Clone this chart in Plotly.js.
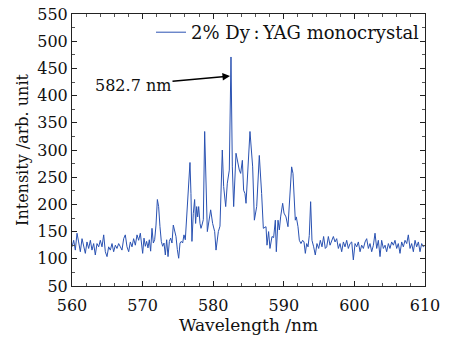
<!DOCTYPE html>
<html><head><meta charset="utf-8">
<script src="https://cdn.plot.ly/plotly-3.0.1.min.js"></script>
<style>html,body{margin:0;padding:0;background:#fff}</style>
</head><body><div id="chart" style="width:456px;height:342px"></div>
<script>
const wavelength = [
560.00,560.24,560.47,560.71,560.94,561.18,561.42,561.65,561.89,562.12,
562.36,562.60,562.83,563.07,563.30,563.54,563.78,564.01,564.25,564.49,
564.72,564.96,565.19,565.43,565.67,565.90,566.14,566.37,566.61,566.85,
567.08,567.32,567.55,567.79,568.03,568.26,568.50,568.73,568.97,569.21,
569.44,569.68,
569.87,570.01,570.20,570.39,570.57,570.76,570.95,571.14,571.33,571.52,
571.71,571.90,572.09,572.27,572.46,572.65,572.84,573.03,573.22,573.41,
573.60,573.79,573.97,574.16,574.35,574.54,574.73,574.92,575.11,575.30,
575.48,575.67,575.86,576.05,576.24,576.48,576.71,576.85,576.99,577.18,
577.37,577.51,577.66,577.80,577.94,578.13,578.27,578.41,
578.60,578.79,579.17,579.64,579.92,580.21,580.40,580.73,580.96,581.29,
581.48,581.77,582.00,582.28,582.52,582.71,582.90,583.23,583.47,583.70,
583.89,584.13,584.31,584.50,584.65,584.83,585.21,585.59,585.83,586.16,
586.53,586.86,587.10,
587.48,587.62,587.85,588.04,588.33,588.56,588.80,588.94,589.18,589.37,
589.55,589.84,590.03,590.31,590.59,590.88,591.11,591.30,591.49,591.63,
591.77,592.01,592.20,592.43,592.67,592.86,593.05,593.24,593.43,593.61,
593.80,593.99,594.23,594.46,594.70,594.94,595.17,595.41,595.64,595.88,
596.08,596.31,596.55,596.78,597.02,597.26,597.49,597.73,597.96,598.20,
598.44,598.67,598.91,599.14,599.38,599.62,599.85,600.09,600.33,600.56,
600.80,601.03,601.27,601.51,601.74,601.98,602.21,602.45,602.69,602.92,
603.16,603.39,603.63,603.86,604.10,604.34,604.57,604.81,605.04,605.28,
605.52,605.75,605.99,606.22,606.46,606.70,606.93,607.17,607.41,607.64,
607.88,608.11,608.35,608.59,608.82,609.06,609.29,609.53,609.76,610.00
];
const intensity = [
122,134,116,147,131,113,137,122,110,131,
119,134,116,128,107,128,122,134,122,144,
113,104,122,116,128,113,125,119,128,122,
116,137,144,122,113,131,122,137,125,144,
134,147,
129,110,138,123,132,120,135,114,156,129,
135,162,209,196,159,132,123,129,107,135,
104,132,138,129,162,153,141,117,101,129,
132,129,144,135,177,220,277,220,132,183,
209,165,196,177,196,165,156,162,
172,334,150,190,165,150,116,150,160,300,
233,196,239,263,471,269,196,294,275,263,
257,281,226,220,202,251,334,269,171,196,
290,220,156,
159,125,150,119,141,139,171,113,171,153,
177,202,184,177,159,214,269,257,214,171,
177,159,134,128,134,131,110,128,122,143,
205,134,122,107,128,119,134,122,141,119,
122,141,125,134,141,131,137,119,128,113,
131,122,134,119,128,131,98,128,122,131,
113,125,119,131,137,119,128,113,125,147,
119,134,104,134,119,125,113,128,119,131,
125,134,119,128,110,131,122,134,128,144,
119,128,113,134,122,131,113,128,122,125
];
const seriesName = "2% Dy\u2009:\u2009YAG monocrystal";
const xTicks = [560,570,580,590,600,610];
const yTicks = [50,100,150,200,250,300,350,400,450,500,550];
const xTitle = "Wavelength /nm";
const yTitle = "Intensity /arb. unit";
const peakLabel = "582.7 nm";
const peakArrowX = 582.38, peakArrowY = 436;

const FONT = "DejaVu Serif";
const axisCommon = {
  ticks:'inside', ticklen:5, tickwidth:1, tickcolor:'#222',
  showline:true, linecolor:'#222', linewidth:1, mirror:'ticks',
  showgrid:false, zeroline:false, tickfont:{size:16, color:'#111'}
};
Plotly.newPlot('chart', [{
  x: wavelength, y: intensity, type:'scatter', mode:'lines', name: seriesName,
  line:{color:'#2a52b2', width:1}
}], {
  width:456, height:342, margin:{l:72, r:31, t:14, b:56},
  paper_bgcolor:'#fff', plot_bgcolor:'#fff',
  font:{family:FONT, size:16, color:'#111'},
  showlegend:true,
  legend:{x:1, xanchor:'right', y:1, yanchor:'top', bgcolor:'rgba(0,0,0,0)', font:{size:18, color:'#111'}},
  xaxis:Object.assign({}, axisCommon, {
    range:[560,610], tickmode:'array', tickvals:xTicks, ticktext:xTicks.map(String),
    ticklabelstandoff:5,
    minor:{tick0:560, dtick:2, ticks:'inside', ticklen:3, tickcolor:'#555', showgrid:false},
    title:{text:xTitle, font:{size:17, color:'#111'}, standoff:2}
  }),
  yaxis:Object.assign({}, axisCommon, {
    range:[50,550], tickmode:'array', tickvals:yTicks, ticktext:yTicks.map(String),
    minor:{tick0:50, dtick:25, ticks:'inside', ticklen:3, tickcolor:'#555', showgrid:false},
    title:{text:yTitle, font:{size:16, color:'#111'}, standoff:4}
  }),
  annotations:[{
    x:peakArrowX, y:peakArrowY, xref:'x', yref:'y', text:peakLabel,
    showarrow:true, arrowhead:2, arrowsize:1, arrowwidth:1.5, arrowcolor:'#000',
    ax:-97, ay:9, font:{size:16, color:'#111'}
  }]
}, {staticPlot:true, displayModeBar:false});
</script></body></html>
